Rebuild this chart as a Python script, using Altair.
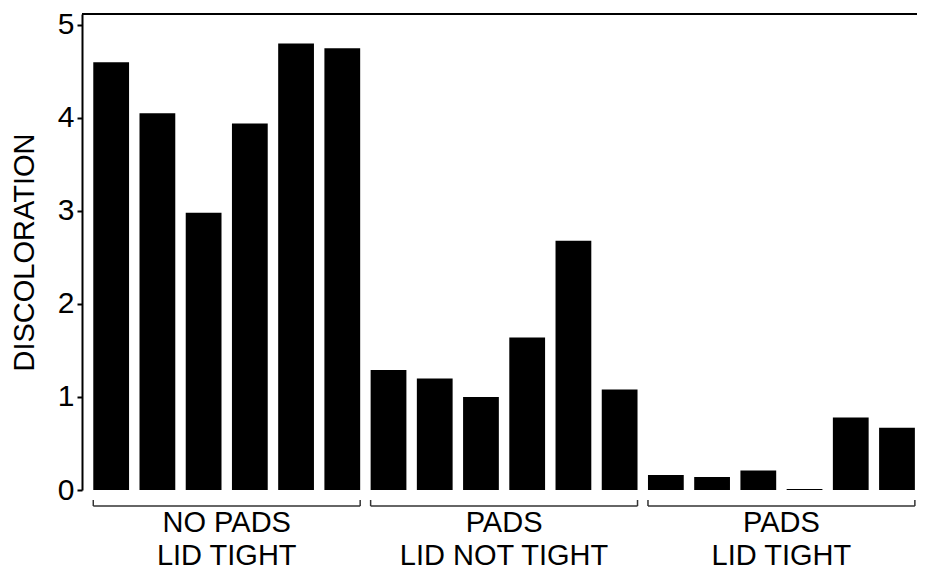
import altair as alt
import pandas as pd

# ---- data ----
group_labels = ["NO PADS\nLID TIGHT", "PADS\nLID NOT TIGHT", "PADS\nLID TIGHT"]
no_pads_lid_tight = [4.60, 4.05, 2.98, 3.94, 4.80, 4.75]
pads_lid_not_tight = [1.29, 1.20, 1.00, 1.64, 2.68, 1.08]
pads_lid_tight = [0.16, 0.14, 0.21, 0.01, 0.78, 0.67]
y_ticks = [0, 1, 2, 3, 4, 5]
y_title = "DISCOLORATION"

# ---- layout constants ----
W, H = 835, 476
BAR = 0.774          # bar width as a fraction of one step
FONT = "Liberation Sans"

series = [no_pads_lid_tight, pads_lid_not_tight, pads_lid_tight]
rows = []
for g, (label, vals) in enumerate(zip(group_labels, series)):
    for j, v in enumerate(vals):
        i = g * len(vals) + j
        rows.append({"group": label, "pos": i, "pos_end": i + BAR, "value": v})
df = pd.DataFrame(rows)

gdf = (df.groupby("group", sort=False)
         .agg(start=("pos", "min"), end=("pos_end", "max"))
         .reset_index())
gdf["mid"] = (gdf["start"] + gdf["end"]) / 2

xscale = alt.Scale(domain=[-0.244, 17.82], nice=False, zero=False)

bars = alt.Chart(df).mark_rect(color="black").encode(
    x=alt.X("pos:Q", scale=xscale, axis=None),
    x2="pos_end:Q",
    y=alt.Y("value:Q",
            scale=alt.Scale(domain=[0, 5.118], nice=False),
            axis=alt.Axis(values=y_ticks, title=y_title, grid=False,
                          domainColor="black", domainWidth=2,
                          tickColor="black", tickSize=5, tickWidth=2,
                          labelFontSize=30, labelPadding=3, labelColor="black",
                          labelFont=FONT,
                          titleFont=FONT, titleFontSize=29, titleFontWeight="normal",
                          titleColor="black", titleAngle=270,
                          titleBaseline="alphabetic", titleX=-49, titleY=H / 2)),
    y2=alt.datum(0),
)

top_line = alt.Chart(pd.DataFrame({"a": [0]})).mark_rule(
    color="black", strokeWidth=2
).encode(x=alt.value(0), x2=alt.value(W), y=alt.value(0))

brackets = alt.Chart(gdf).mark_rule(color="#333333", strokeWidth=1.5).encode(
    x=alt.X("start:Q", scale=xscale, axis=None),
    x2="end:Q",
    y=alt.value(H + 16),
)

bracket_ends = alt.Chart(gdf).transform_fold(
    ["start", "end"], as_=["side", "edge"]
).mark_rule(color="#333333", strokeWidth=1.5).encode(
    x=alt.X("edge:Q", scale=xscale, axis=None),
    y=alt.value(H + 10),
    y2=alt.value(H + 16),
)

labels = alt.Chart(gdf).mark_text(
    font=FONT, fontSize=29, lineBreak="\n", lineHeight=33,
    baseline="alphabetic", align="center", color="black"
).encode(
    x=alt.X("mid:Q", scale=xscale, axis=None),
    y=alt.value(H + 42),
    text="group:N",
)

chart = alt.layer(bars, top_line, brackets, bracket_ends, labels).properties(
    width=W, height=H,
    padding={"left": 74, "top": 6, "right": 0, "bottom": 82},
    autosize=alt.AutoSizeParams(type="none"),
).configure_view(stroke=None)

chart.save("out.html", embed_options={"renderer": "svg", "actions": False})
